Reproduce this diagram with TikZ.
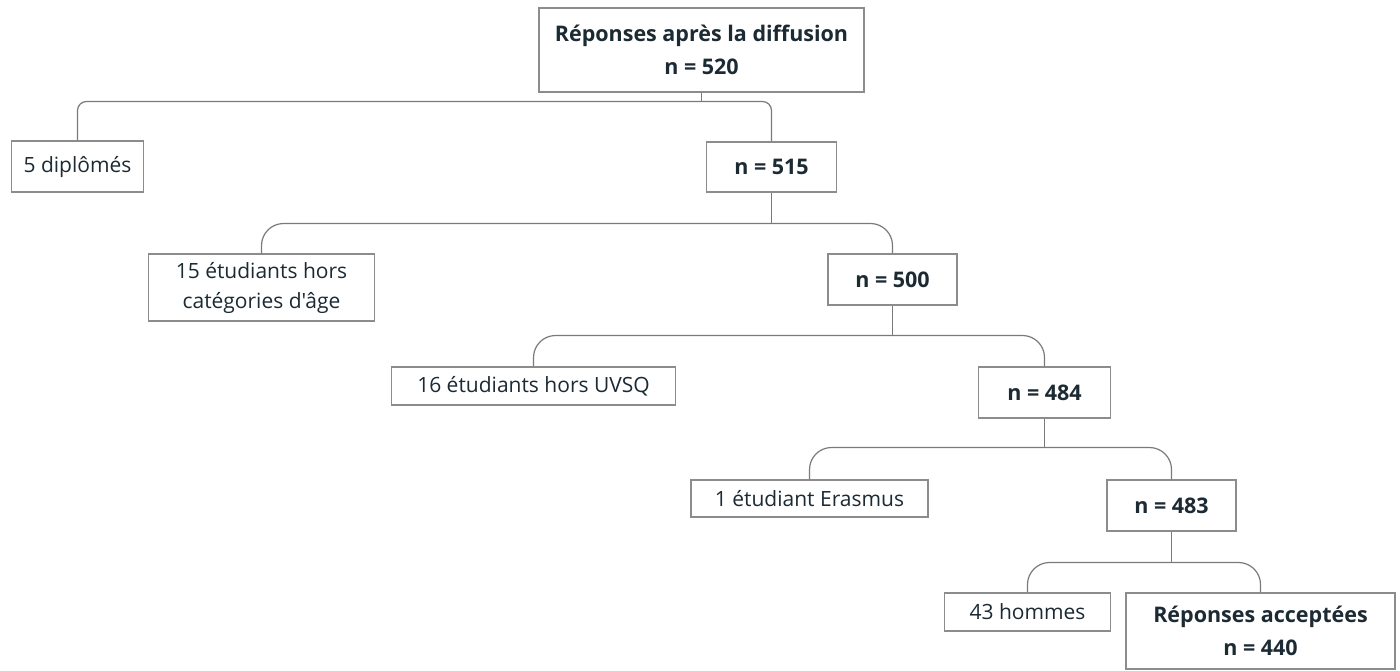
\documentclass[tikz,border=0pt]{standalone}
\usepackage{fontspec}
\setmainfont{Open Sans}[Ligatures=TeXOff]
\usetikzlibrary{calc}
\definecolor{txt}{HTML}{1C2A33}
\definecolor{boxline}{HTML}{8C8C8C}
\definecolor{conline}{HTML}{7A7A7A}
\tikzset{
  box/.style={draw=boxline, line width=1.2pt, fill=white, text=txt, inner sep=0pt,
    align=center, font=\fontsize{21}{30}\selectfont},
  boldbox/.style={box, font=\fontsize{21.5}{33}\selectfont\bfseries},
  conn/.style={draw=conline, line width=1.2pt},
}
\begin{document}
\begin{tikzpicture}[x=1pt,y=1pt]
\useasboundingbox (0,0) rectangle (1400,-670);
\fill[white] (0,0) rectangle (1400,-670);
% nodes
\node[boldbox, minimum width=325, minimum height=84] (root) at (701.5,-50) {Réponses après la diffusion\\n = 520};
\node[box, minimum width=132, minimum height=51] (d5) at (77.5,-166.5) {5 diplômés};
\node[boldbox, minimum width=130, minimum height=50] (n515) at (771.5,-167) {n = 515};
\node[box, minimum width=226, minimum height=67] (e15) at (261.5,-287.5) {15 étudiants hors\\catégories d'âge};
\node[boldbox, minimum width=129, minimum height=51] (n500) at (892.5,-279.5) {n = 500};
\node[box, minimum width=284, minimum height=38] (e16) at (533.5,-386) {16 étudiants hors UVSQ};
\node[boldbox, minimum width=132, minimum height=51] (n484) at (1044.5,-392.5) {n = 484};
\node[box, minimum width=237, minimum height=37] (e1) at (809.5,-498.5) {1 étudiant Erasmus};
\node[boldbox, minimum width=129, minimum height=51] (n483) at (1171.5,-505.5) {n = 483};
\node[box, minimum width=166, minimum height=38] (h43) at (1027.5,-612) {43 hommes};
\node[boldbox, minimum width=269, minimum height=76] (acc) at (1260.5,-631) {Réponses acceptées\\n = 440};
% branch points
\coordinate (b1) at (701.5,-101.5);
\coordinate (b2) at (771.5,-223.5);
\coordinate (b3) at (892.5,-335.5);
\coordinate (b4) at (1044.5,-447.5);
\coordinate (b5) at (1171.5,-562.5);
% connectors
\draw[conn] (root.south) -- (b1);
\draw[conn, rounded corners=9pt] (d5.north) |- (b1) -| (n515.north);
\draw[conn] (n515.south) -- (b2);
\draw[conn, rounded corners=22pt] (e15.north) |- (b2) -| (n500.north);
\draw[conn] (n500.south) -- (b3);
\draw[conn, rounded corners=22pt] (e16.north) |- (b3) -| (n484.north);
\draw[conn] (n484.south) -- (b4);
\draw[conn, rounded corners=22pt] (e1.north) |- (b4) -| (n483.north);
\draw[conn] (n483.south) -- (b5);
\draw[conn, rounded corners=22pt] (h43.north) |- (b5) -| (acc.north);
\end{tikzpicture}
\end{document}
